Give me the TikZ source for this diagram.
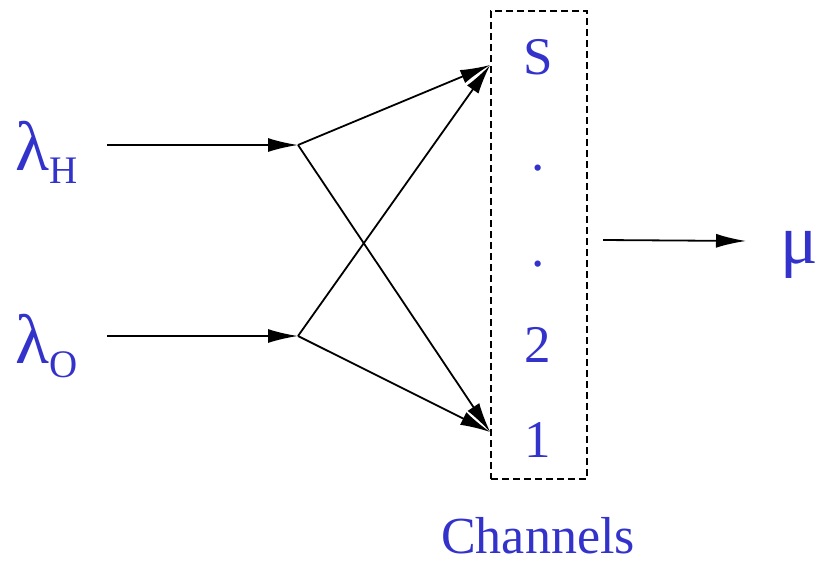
\documentclass[tikz,border=0pt]{standalone}
\usepackage{fontspec}
\setmainfont{LiberationSerif-Regular.ttf}
\newfontfamily\timesface{LiberationSerif-Regular.ttf}
\usetikzlibrary{positioning}
\usetikzlibrary{arrows.meta}
\definecolor{chanblue}{RGB}{51,51,204}

\begin{document}
\begin{tikzpicture}[
    x=1pt, y=-1pt,
    % node styles
    greek/.style = {
      text=chanblue,
      inner sep=0pt,
      font=\timesface\fontsize{70}{74}\selectfont
    },
    slot/.style = {
      text=chanblue,
      inner sep=0pt,
      anchor=base,
      font=\timesface\fontsize{53}{56}\selectfont
    },
    chanbox/.style = {
      draw,
      line width=1.7pt,
      dash pattern=on 7pt off 4pt,
      minimum width=96pt,
      minimum height=468pt,
      inner sep=0pt
    },
    % arrow styles
    arr/.style = {-{Latex[length=30pt,width=14pt]}, line width=1.8pt}
  ]
  \useasboundingbox (0,0) rectangle (819,563);

  % --- Nodes
  \node[greek, anchor=base west] (lamH) at (15,170)
    {λ\raisebox{-13pt}{\fontsize{39}{42}\selectfont H}};
  \node[greek, anchor=base west] (lamO) at (15,363)
    {λ\raisebox{-14pt}{\fontsize{39}{42}\selectfont O}};

  \node[chanbox] (chan) at (539,245) {};
  \node[slot] (slotS) at (538,74) {S};
  \node[slot] (dotA) at (538,170) {.};
  \node[slot] (dotB) at (538,266) {.};
  \node[slot] (slot2) at (538,362) {2};
  \node[slot] (slot1) at (538,457) {1};
  \node[slot, font=\timesface\fontsize{52}{56}\selectfont] (chanlbl) at (538,553) {Channels};

  \node[greek, anchor=base east] (mu) at (818,263) {μ};

  % --- Connectors
  \coordinate (hIn) at (107,145);
  \coordinate (hFork) at (298,145);
  \coordinate (oIn) at (107,336);
  \coordinate (oFork) at (298,336);
  \coordinate (toS) at (chan.west |- 0,65);
  \coordinate (to1) at (chan.west |- 0,432);
  \coordinate (outA) at (603,240);
  \coordinate (outB) at (746,241);

  \draw[arr] (hIn) -- (hFork);
  \draw[arr] (oIn) -- (oFork);
  \draw[arr] (hFork) -- (toS);
  \draw[arr] (hFork) -- (to1);
  \draw[arr] (oFork) -- (toS);
  \draw[arr] (oFork) -- (to1);
  \draw[arr] (outA) -- (outB);

\end{tikzpicture}
\end{document}
